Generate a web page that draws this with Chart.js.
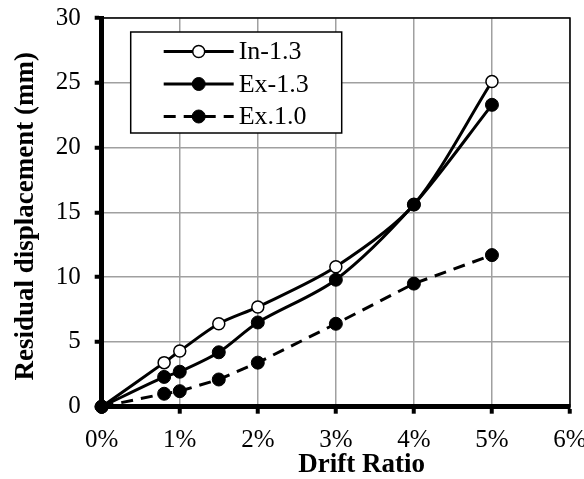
<!DOCTYPE html>
<html>
<head>
<meta charset="utf-8">
<script src="https://cdn.jsdelivr.net/npm/chart.js@4"></script>
<style>
  html, body { margin: 0; padding: 0; background: #fff; }
  #wrap { width: 584px; height: 479px; }
</style>
</head>
<body>
<div id="wrap"><canvas id="myChart"></canvas></div>
<script>
// drift ratio in percent
const driftRatio = [0, 0.8, 1, 1.5, 2, 3, 4, 5];
const in13 = [0, 3.4, 4.3, 6.4, 7.7, 10.8, 15.6, 25.1];
const ex13 = [0, 2.3, 2.7, 4.2, 6.5, 9.8, 15.6, 23.3];
const ex10 = [0, 1.0, 1.2, 2.1, 3.4, 6.4, 9.5, 11.7];
const seriesNames = ['In-1.3', 'Ex-1.3', 'Ex.1.0'];
const xTitle = 'Drift Ratio';
const yTitle = 'Residual displacement (mm)';

const serif = '"Liberation Serif", "Times New Roman", serif';

const toPoints = (ys) => driftRatio.map((x, i) => ({ x: x, y: ys[i] }));

// thin frame on top/right of the plot area
const plotFrame = {
    id: 'plotFrame',
    beforeDatasetsDraw(chart) {
        const { ctx, chartArea: a } = chart;
        ctx.save();
        ctx.strokeStyle = '#000';
        ctx.lineWidth = 1.5;
        ctx.strokeRect(a.left, a.top, a.right - a.left, a.bottom - a.top);
        ctx.restore();
    },
};

// axis titles, placed like the excel original (x title sits right of centre)
const axisTitles = {
    id: 'axisTitles',
    afterDraw(chart) {
        const { ctx, chartArea: a } = chart;
        ctx.save();
        ctx.fillStyle = '#000';
        ctx.font = 'bold 27px ' + serif;
        ctx.textAlign = 'center';
        ctx.textBaseline = 'middle';
        ctx.fillText(xTitle, a.left + 260, a.bottom + 58);
        ctx.translate(a.left - 76, (a.top + a.bottom) / 2 + 4);
        ctx.rotate(-Math.PI / 2);
        ctx.fillText(yTitle, 0, 0);
        ctx.restore();
    },
};

// Excel style boxed legend with line + marker samples
const boxLegend = {
    id: 'boxLegend',
    afterDraw(chart) {
        const { ctx, chartArea: a } = chart;
        const x0 = a.left + 29, y0 = a.top + 14, w = 211, h = 101;
        ctx.save();
        ctx.fillStyle = '#fff';
        ctx.fillRect(x0, y0, w, h);
        ctx.lineWidth = 1.5;
        ctx.strokeStyle = '#000';
        ctx.strokeRect(x0, y0, w, h);
        chart.data.datasets.forEach((ds, i) => {
            const cy = y0 + 19.5 + i * 32.5;
            ctx.setLineDash(ds.borderDash || []);
            ctx.lineWidth = ds.borderWidth;
            ctx.strokeStyle = ds.borderColor;
            ctx.beginPath();
            ctx.moveTo(x0 + 33, cy);
            ctx.lineTo(x0 + 103, cy);
            ctx.stroke();
            ctx.setLineDash([]);
            ctx.beginPath();
            ctx.arc(x0 + 68, cy, ds.pointRadius, 0, Math.PI * 2);
            ctx.fillStyle = ds.pointBackgroundColor;
            ctx.fill();
            ctx.lineWidth = ds.pointBorderWidth;
            ctx.strokeStyle = '#000';
            ctx.stroke();
            ctx.fillStyle = '#000';
            ctx.font = '26px ' + serif;
            ctx.textBaseline = 'middle';
            ctx.textAlign = 'left';
            ctx.fillText(ds.label, x0 + 108, cy + 1);
        });
        ctx.restore();
    },
};

const ctx = document.getElementById('myChart').getContext('2d');

const data = {
    datasets: [
        {
            label: seriesNames[0],
            data: toPoints(in13),
            borderColor: '#000',
            borderWidth: 3,
            pointRadius: 6,
            pointBorderWidth: 1.5,
            pointBackgroundColor: '#fff',
            pointBorderColor: '#000',
            tension: 0.3,
            order: 3,
            clip: false,
        },
        {
            label: seriesNames[1],
            data: toPoints(ex13),
            borderColor: '#000',
            borderWidth: 3,
            pointRadius: 6.5,
            pointBorderWidth: 1,
            pointBackgroundColor: '#000',
            pointBorderColor: '#000',
            tension: 0.3,
            order: 1,
            clip: false,
        },
        {
            label: seriesNames[2],
            data: toPoints(ex10),
            borderColor: '#000',
            borderWidth: 3,
            borderDash: [12, 8],
            pointRadius: 6.5,
            pointBorderWidth: 1,
            pointBackgroundColor: '#000',
            pointBorderColor: '#000',
            tension: 0,
            order: 2,
            clip: false,
        },
    ],
};

const config = {
    type: 'line',
    data: data,
    options: {
        responsive: true,
        maintainAspectRatio: false,
        animation: false,
        layout: { padding: { top: 18, left: 0, right: 0, bottom: 0 } },
        plugins: {
            legend: { display: false },
            tooltip: { enabled: false },
        },
        scales: {
            x: {
                type: 'linear',
                min: 0,
                max: 6,
                ticks: {
                    stepSize: 1,
                    callback: (v) => v + '%',
                    font: { family: serif, size: 25 },
                    color: '#000',
                    padding: 12,
                    maxRotation: 0,
                },
                grid: { color: '#a0a0a0', lineWidth: 1.5, tickLength: 7, tickColor: '#000', tickWidth: 4 },
                border: { color: '#000', width: 5 },
                afterFit(scale) {
                    scale.height = 72.3;
                    scale.paddingRight = 14;
                },
            },
            y: {
                min: 0,
                max: 30,
                ticks: {
                    stepSize: 5,
                    font: { family: serif, size: 25 },
                    color: '#000',
                    padding: 14,
                },
                grid: { color: '#a0a0a0', lineWidth: 1.5, tickLength: 7, tickColor: '#000', tickWidth: 4 },
                border: { color: '#000', width: 5 },
                afterFit(scale) {
                    scale.width = 101.7;
                    scale.paddingTop = 0;
                    scale.paddingBottom = 0;
                },
            },
        },
    },
    plugins: [plotFrame, axisTitles, boxLegend],
};

new Chart(ctx, config);
</script>
</body>
</html>
